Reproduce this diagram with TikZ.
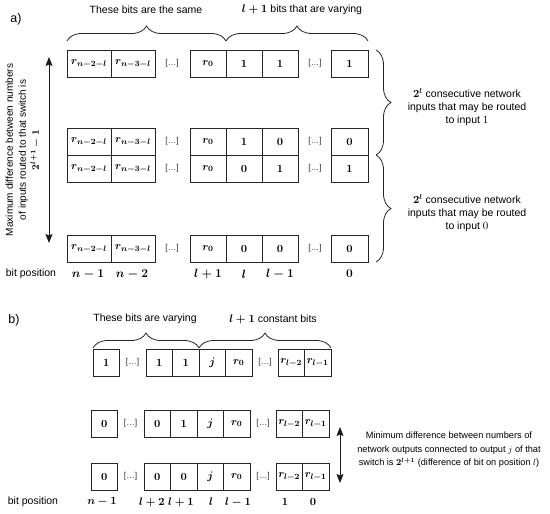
\documentclass[tikz,border=0pt]{standalone}
\usepackage{amsmath}
\usepackage[no-math]{fontspec}
\setmainfont{Liberation Sans}
\usetikzlibrary{decorations.pathreplacing,arrows.meta}
\begin{document}
\begin{tikzpicture}[x=1pt,y=-1pt,
  font=\fontsize{10.5}{13}\selectfont,
  bitbox/.style={draw=black!85, line width=0.8pt, fill=white, minimum height=27pt,
    inner sep=0pt, outer sep=0pt, font=\fontsize{11}{12}\selectfont\boldmath},
  wbox/.style={bitbox, minimum width=44pt},
  mbox/.style={bitbox, minimum width=36pt},
  sbox/.style={bitbox, minimum width=26.5pt},
  dotsnode/.style={inner sep=0pt, font=\fontsize{8.5}{10}\selectfont, text=black!80},
  poslbl/.style={inner sep=0pt, font=\fontsize{11.5}{12}\selectfont\boldmath},
  bposlbl/.style={inner sep=0pt, font=\fontsize{10.8}{12}\selectfont\boldmath},
  lbl/.style={inner sep=0pt, align=center},
  curly/.style={draw=black!85, line width=0.8pt, decorate,
    decoration={brace, amplitude=15pt}},
  dblarrow/.style={draw=black!90, line width=0.9pt,
    {Stealth[length=9pt,width=7pt,inset=1.5pt]}-{Stealth[length=9pt,width=7pt,inset=1.5pt]}}
]
\useasboundingbox (0,0) rectangle (550,514);

% ---------------- part a ----------------
\node[inner sep=0pt, font=\fontsize{12.5}{14}\selectfont] (alabel) at (16,19) {a)};

\foreach \r/\y/\u/\v/\w in {1/63.5/1/1/1, 2/141.5/1/0/0, 3/168.5/0/1/1, 4/248.5/0/0/0}{
  \node[wbox] (a\r c1) at (89,\y) {$r_{n-2-l}$};
  \node[wbox] (a\r c2) at (133,\y) {$r_{n-3-l}$};
  \node[dotsnode] (a\r d1) at (172,\y) {[…]};
  \node[mbox] (a\r c3) at (208,\y) {$r_0$};
  \node[mbox] (a\r c4) at (244,\y) {$\u$};
  \node[mbox] (a\r c5) at (280,\y) {$\v$};
  \node[dotsnode] (a\r d2) at (315,\y) {[…]};
  \node[bitbox, minimum width=37pt] (a\r c6) at (349.5,\y) {$\w$};
}

% top braces
\draw[curly] ([yshift=9pt]a1c1.north west) -- ([yshift=9pt]a1c3.north east);
\draw[curly] ([yshift=9pt]a1c4.north west) -- ([yshift=9pt]a1c6.north east);
\node[lbl] (sametxt) at (146,10) {These bits are the same};
\node[lbl] (vartxt) at (302,10) {$\boldsymbol{l+1}$ bits that are varying};

% right braces
\draw[curly] ([xshift=8pt]a1c6.north east) -- ([xshift=8pt]a2c6.south east);
\draw[curly] ([xshift=8pt]a3c6.north east) -- ([xshift=8pt]a4c6.south east);
\node[lbl] (in1txt) at (467,107) {$\boldsymbol{2^l}$ consecutive network\\inputs that may be routed\\to input $1$};
\node[lbl] (in0txt) at (467,213) {$\boldsymbol{2^l}$ consecutive network\\inputs that may be routed\\to input $0$};

% vertical arrow and rotated text
\coordinate (atop) at (49,57);
\coordinate (abot) at (49,243);
\draw[dblarrow] (atop) -- (abot);
\node[lbl, rotate=90, font=\fontsize{10}{13}\selectfont] (maxtxt) at (23,150) {Maximum difference between numbers\\of inputs routed to that switch is\\$\boldsymbol{2^{l+1}-1}$};

% bit positions a
\node[inner sep=0pt] (abitpos) at (31,274) {bit position};
\node[poslbl] (ap1) at (88,274) {$n-1$};
\node[poslbl] (ap2) at (132,274) {$n-2$};
\node[poslbl] (ap3) at (208,274) {$l+1$};
\node[poslbl] (ap4) at (244,274) {$l$};
\node[poslbl] (ap5) at (280,274) {$l-1$};
\node[poslbl] (ap6) at (349.5,274) {$0$};

% ---------------- part b ----------------
\node[inner sep=0pt, font=\fontsize{12.5}{14}\selectfont] (blabel) at (14,320) {b)};

\foreach \r/\y/\dx/\a/\b/\c in {1/362.5/0/1/1/1, 2/423.5/-2/0/0/1, 3/476.5/-2/0/0/0}{
  \node[sbox] (b\r c1) at (106.25+\dx,\y) {$\a$};
  \node[dotsnode] (b\r d1) at (132.5+\dx,\y) {[…]};
  \node[sbox] (b\r c2) at (159.25+\dx,\y) {$\b$};
  \node[sbox] (b\r c3) at (185.75+\dx,\y) {$\c$};
  \node[sbox] (b\r c4) at (212.25+\dx,\y) {$j$};
  \node[sbox] (b\r c5) at (238.75+\dx,\y) {$r_0$};
  \node[dotsnode] (b\r d2) at (265+\dx,\y) {[…]};
  \node[sbox] (b\r c6) at (291.25+\dx,\y) {$r_{l-2}$};
  \node[sbox] (b\r c7) at (317.75+\dx,\y) {$r_{l-1}$};
}

\draw[curly] ([yshift=1pt]b1c1.north west) -- ([yshift=1pt]b1c3.north east);
\draw[curly] ([yshift=1pt]b1c4.north west) -- ([yshift=1pt]b1c7.north east);
\node[lbl] (bvartxt) at (145,319) {These bits are varying};
\node[lbl] (bconsttxt) at (273,319) {$\boldsymbol{l+1}$ constant bits};

\coordinate (btop) at (340,427);
\coordinate (bbot) at (340,483);
\draw[dblarrow] (btop) -- (bbot);
\node[lbl, font=\fontsize{9.2}{13.5}\selectfont] (mintxt) at (449,450) {Minimum difference between numbers of\\network outputs connected to output $j$ of that\\switch is $\boldsymbol{2^{l+1}}$ (difference of bit on position $l$)};

% bit positions b
\node[inner sep=0pt] (bbitpos) at (33,502) {bit position};
\node[bposlbl] (bp1) at (102,502) {$n-1$};
\node[bposlbl] (bp2) at (152,502) {$l+2$};
\node[bposlbl] (bp3) at (181,502) {$l+1$};
\node[bposlbl] (bp4) at (211,502) {$l$};
\node[bposlbl] (bp5) at (238,502) {$l-1$};
\node[bposlbl] (bp6) at (285,502) {$1$};
\node[bposlbl] (bp7) at (313,502) {$0$};
\end{tikzpicture}
\end{document}
